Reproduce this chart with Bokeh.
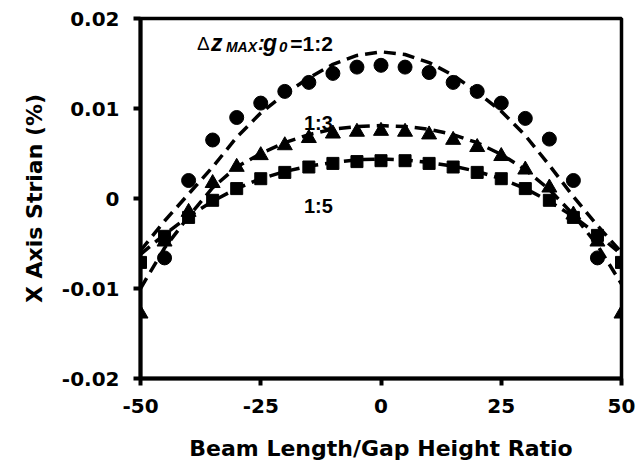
from bokeh.plotting import figure
from bokeh.models import FixedTicker
from bokeh.core.properties import value
from bokeh.embed import file_html
from bokeh.resources import INLINE

FONT = "Liberation Sans"
AXFONT = "DejaVu Sans"

# Beam length / gap height ratio positions
x_all = [-50, -45, -40, -35, -30, -25, -20, -15, -10, -5, 0,
         5, 10, 15, 20, 25, 30, 35, 40, 45, 50]
x_circ = [-45, -40, -35, -30, -25, -20, -15, -10, -5, 0,
          5, 10, 15, 20, 25, 30, 35, 40, 45]

# measured points
y_12 = [-0.0066, 0.0020, 0.0065, 0.0090, 0.0106, 0.0119, 0.0129, 0.0139, 0.0146, 0.0148,
        0.0146, 0.0140, 0.0129, 0.0119, 0.0106, 0.0089, 0.0066, 0.0020, -0.0066]
y_13 = [-0.0128, -0.0048, -0.0015, 0.0017, 0.0035, 0.0048, 0.0059, 0.0067, 0.0072, 0.0074, 0.0075,
        0.0074, 0.0071, 0.0065, 0.0057, 0.0047, 0.0032, 0.0012, -0.0018, -0.0048, -0.0128]
y_15 = [-0.0071, -0.0042, -0.0021, -0.0002, 0.0011, 0.0022, 0.0029, 0.0035, 0.0039, 0.0041, 0.0042,
        0.0042, 0.0039, 0.0035, 0.0029, 0.0022, 0.0011, -0.0002, -0.0021, -0.0041, -0.0071]

# fitted (dashed) curves
fit_12 = [-0.0058, -0.0025, 0.0005, 0.0035, 0.0068, 0.0095, 0.0116, 0.0134, 0.0149, 0.0159, 0.0163,
          0.0160, 0.0151, 0.0137, 0.0118, 0.0097, 0.0070, 0.0037, 0.0002, -0.0030, -0.0060]
fit_13 = [-0.0100, -0.0055, -0.0020, 0.0012, 0.0035, 0.0050, 0.0062, 0.0071, 0.0077, 0.0080, 0.0081,
          0.0080, 0.0077, 0.0071, 0.0062, 0.0049, 0.0032, 0.0010, -0.0018, -0.0052, -0.0095]
fit_15 = [-0.0062, -0.0040, -0.0020, -0.0003, 0.0011, 0.0022, 0.0030, 0.0036, 0.0040, 0.0043, 0.0044,
          0.0043, 0.0040, 0.0036, 0.0030, 0.0022, 0.0011, -0.0003, -0.0020, -0.0040, -0.0062]

x_ticks = [-50, -25, 0, 25, 50]
x_tick_labels = ["-50", "-25", "0", "25", "50"]
y_ticks = [-0.02, -0.01, 0, 0.01, 0.02]
y_tick_labels = ["-0.02", "-0.01", "0", "0.01", "0.02"]

p = figure(width=638, height=465, x_range=(-50, 50), y_range=(-0.02, 0.02),
           output_backend="svg", toolbar_location=None,
           min_border_left=140, min_border_right=17, min_border_top=18, min_border_bottom=87)
p.background_fill_color = "white"
p.border_fill_color = "white"
p.outline_line_color = "black"
p.outline_line_width = 3.5
p.xgrid.visible = False
p.ygrid.visible = False

for ax in (p.xaxis[0], p.yaxis[0]):
    ax.axis_line_width = 4
    ax.axis_line_color = "black"
    ax.major_tick_line_width = 4
    ax.major_tick_line_color = "black"
    ax.major_tick_in = 0
    ax.major_tick_out = 7
    ax.minor_tick_line_color = None
    ax.major_label_text_font = AXFONT
    ax.major_label_text_font_style = "bold"
    ax.major_label_text_font_size = "20px"
    ax.major_label_text_color = "black"
    ax.axis_label_text_font = AXFONT
    ax.axis_label_text_font_style = "bold"
    ax.axis_label_text_font_size = "22px"
    ax.axis_label_text_color = "black"

p.xaxis[0].ticker = FixedTicker(ticks=x_ticks)
p.yaxis[0].ticker = FixedTicker(ticks=y_ticks)
p.xaxis[0].major_label_overrides = {t: s for t, s in zip(x_ticks, x_tick_labels)}
p.yaxis[0].major_label_overrides = {t: s for t, s in zip(y_ticks, y_tick_labels)}
p.xaxis[0].major_label_standoff = 13
p.yaxis[0].major_label_standoff = 14
p.xaxis[0].axis_label = "Beam Length/Gap Height Ratio"
p.yaxis[0].axis_label = "X Axis Strian (%)"
p.xaxis[0].axis_label_standoff = 20
p.yaxis[0].axis_label_standoff = 12

dash = "12 7"
p.line(x_all, fit_12, line_color="black", line_width=3.5, line_dash=dash)
p.line(x_all, fit_13, line_color="black", line_width=3.5, line_dash=dash)
p.line(x_all, fit_15, line_color="black", line_width=3.5, line_dash=dash)

p.scatter(x_all, y_13, marker="triangle", size=15, fill_color="black", line_color="black")
p.scatter(x_all, y_15, marker="square", size=12, fill_color="black", line_color="black")
p.scatter(x_circ, y_12, marker="circle", size=14, fill_color="black", line_color="black")

# annotations
lab_x = -10
p.text([lab_x], [0.00835], text=["1:3"], text_align="right", text_baseline="alphabetic",
       text_font=value(FONT), text_font_style="bold", text_font_size="20px", text_color="black")
p.text([lab_x], [-0.00078], text=["1:5"], text_align="right", text_baseline="alphabetic",
       text_font=value(FONT), text_font_style="bold", text_font_size="20px", text_color="black")

base = 0.01726
sub = base - 4 / 8980
p.text([lab_x], [base], text=["=1:2"], text_align="right", text_baseline="alphabetic",
       text_font=value(FONT), text_font_style="bold", text_font_size="21px", text_color="black")
p.text([lab_x], [sub], text=["0"], x_offset=-54, text_align="left", text_baseline="alphabetic",
       text_font=value(FONT), text_font_style="bold italic", text_font_size="15px", text_color="black")
p.text([lab_x], [base], text=["g"], x_offset=-70, text_align="left", text_baseline="alphabetic",
       text_font=value(FONT), text_font_style="bold italic", text_font_size="23px", text_color="black")
p.text([lab_x], [base], text=[":"], x_offset=-75, text_align="left", text_baseline="alphabetic",
       text_font=value(FONT), text_font_style="bold italic", text_font_size="20px", text_color="black")
p.text([lab_x], [sub], text=["MAX"], x_offset=-107, text_align="left", text_baseline="alphabetic",
       text_font=value(FONT), text_font_style="bold italic", text_font_size="14px", text_color="black")
p.text([lab_x], [base], text=["z"], x_offset=-122, text_align="left", text_baseline="alphabetic",
       text_font=value(FONT), text_font_style="bold italic", text_font_size="23px", text_color="black")
p.text([lab_x], [base], text=["\u0394"], x_offset=-136, text_align="left", text_baseline="alphabetic",
       text_font=value(FONT), text_font_style="normal", text_font_size="19px", text_color="black")

open("out.html", "w").write(file_html(p, INLINE))
